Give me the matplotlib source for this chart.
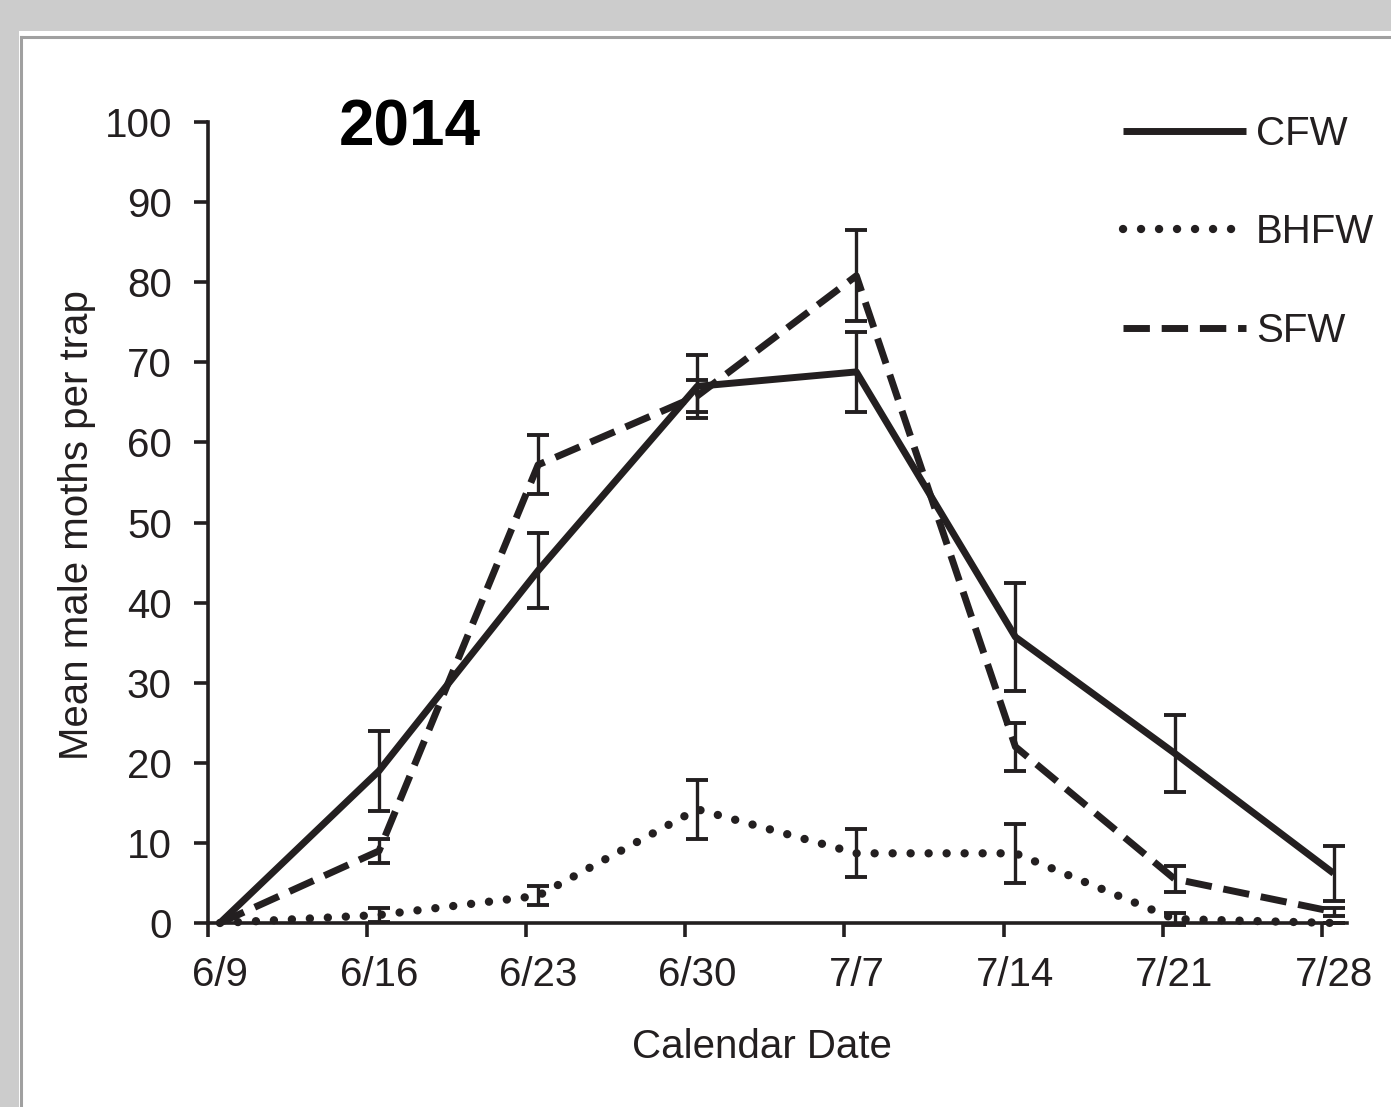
import matplotlib
matplotlib.use("Agg")
import matplotlib.pyplot as plt
from matplotlib.patches import Rectangle
from matplotlib.lines import Line2D
import numpy as np

dates = ["6/9", "6/16", "6/23", "6/30", "7/7", "7/14", "7/21", "7/28"]
cfw = [0, 19, 44, 67, 68.8, 35.7, 21.2, 6.2]
cfw_err = [0, 5, 4.7, 3.9, 5, 6.7, 4.8, 3.4]
bhfw = [0, 1.0, 3.4, 14.2, 8.7, 8.7, 0.5, 0]
bhfw_err = [0, 0.9, 1.2, 3.7, 3.0, 3.7, 0.8, 0]
sfw = [0, 9.0, 57.2, 65.8, 80.8, 22.0, 5.5, 1.4]
sfw_err = [0, 1.5, 3.7, 2.0, 5.7, 3.0, 1.6, 0.5]

INK = "#231f20"
plt.rcParams['font.family'] = ['Liberation Sans', 'DejaVu Sans']

W, H = 1391, 1107
fig = plt.figure(figsize=(W / 100, H / 100), dpi=100)
fig.patch.set_facecolor("#cccccc")
fig.patches.append(Rectangle((19 / W, 0), 1, 1 - 31 / H, transform=fig.transFigure,
                             facecolor="white", edgecolor="none", zorder=-10))
fig.lines.append(Line2D([21 / W, 1], [1 - 37 / H, 1 - 37 / H], transform=fig.transFigure,
                        color="#a0a0a0", lw=2.2, zorder=-5))
fig.lines.append(Line2D([21 / W, 21 / W], [0, 1 - 37 / H], transform=fig.transFigure,
                        color="#a0a0a0", lw=2.2, zorder=-5))

ax = fig.add_axes([208 / W, 1 - 923 / H, (1347 - 208) / W, (923 - 122) / H])
ax.set_facecolor("none")
x = np.arange(len(dates))
off = 0.075

lw = 5.0
l1, = ax.plot(x, cfw, color=INK, lw=lw, solid_capstyle="butt", clip_on=False, zorder=3)
l2, = ax.plot(x, bhfw, color=INK, lw=6.0, linestyle=(0, (0.01, 2.15)), dash_capstyle="round",
              clip_on=False, zorder=3)
l3, = ax.plot(x, sfw, color=INK, lw=lw, linestyle=(0, (3.8, 1.7)), dash_capstyle="butt",
              clip_on=False, zorder=3)
for vals, errs in [(cfw, cfw_err), (bhfw, bhfw_err), (sfw, sfw_err)]:
    ax.errorbar(x[1:], vals[1:], yerr=errs[1:], fmt="none", ecolor=INK, elinewidth=2.4,
                capsize=8, capthick=2.8, clip_on=False, zorder=4)

ax.set_xlim(-off, 7.159 - off)
ax.set_ylim(0, 100)
ax.set_yticks(np.arange(0, 101, 10))
ax.set_xticks(x)
ax.set_xticklabels(dates)
ax.set_xticks(x - off, minor=True)
ax.tick_params(axis="x", which="major", length=0, pad=24, labelsize=29, colors=INK)
ax.tick_params(axis="x", which="minor", length=10, width=2.6, color=INK, direction="out")
ax.tick_params(axis="y", length=10, width=2.6, color=INK, pad=16, labelsize=29, labelcolor=INK)
for s in ["top", "right"]:
    ax.spines[s].set_visible(False)
for s in ["left", "bottom"]:
    ax.spines[s].set_linewidth(2.6)
    ax.spines[s].set_color(INK)

ax.set_xlabel("Calendar Date", fontsize=29, color=INK)
ax.xaxis.set_label_coords((762 - 208) / 1139, (923 - 1047) / 801)
ax.xaxis.label.set_va("center")
ax.set_ylabel("Mean male moths per trap", fontsize=29, color=INK)
ax.yaxis.set_label_coords((77 - 208) / 1139, (923 - 525) / 801)
ax.yaxis.label.set_va("center")

ax.text((410 - 208) / 1139, (923 - 128) / 801, "2014", transform=ax.transAxes,
        fontsize=46, fontweight="bold", ha="center", va="center", color="black")

leg = ax.legend([l1, l2, l3], ["CFW", "BHFW", "SFW"], loc="upper left",
                bbox_to_anchor=((1123 - 208) / 1139, (923 - 115) / 801),
                frameon=False, fontsize=29, handlelength=3.05, handletextpad=0.25,
                labelspacing=1.5, borderpad=0, borderaxespad=0)
for t in leg.get_texts():
    t.set_color(INK)

fig.savefig("out.png", dpi=100, facecolor=fig.get_facecolor())
